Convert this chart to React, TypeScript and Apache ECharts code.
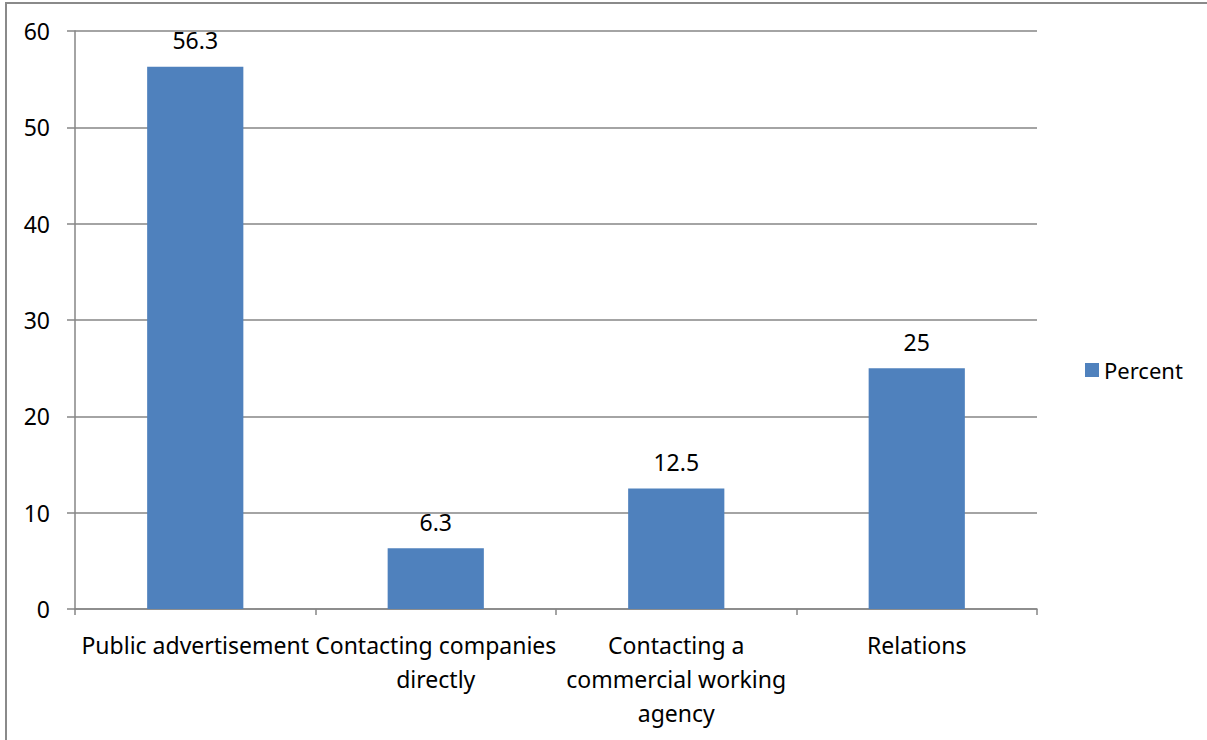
import React, { useEffect, useRef } from "react";
import * as echarts from "echarts";

const categories = [
  "Public advertisement",
  "Contacting companies\ndirectly",
  "Contacting a\ncommercial working\nagency",
  "Relations",
];
const percentValues = [56.3, 6.3, 12.5, 25];
const seriesName = "Percent";

const FONT = "'Noto Sans', sans-serif";

export default function App() {
  const ref = useRef<HTMLDivElement>(null);

  useEffect(() => {
    if (!ref.current) return;
    const chart = echarts.init(ref.current, undefined, { renderer: "svg" });
    chart.setOption({
      animation: false,
      backgroundColor: "#ffffff",
      textStyle: { fontFamily: FONT },
      graphic: [
        {
          type: "rect",
          shape: { x: 6, y: 3, width: 1300, height: 800 },
          style: { fill: "none", stroke: "#8a8a8a", lineWidth: 2 },
          silent: true,
        },
      ],
      grid: { left: 75, right: 170, top: 31, bottom: 131, containLabel: false },
      legend: {
        data: [seriesName],
        left: 1080,
        top: "middle",
        orient: "vertical",
        itemWidth: 14,
        itemHeight: 14,
        itemGap: 8,
        textStyle: { fontSize: 22, color: "#000", fontFamily: FONT },
        icon: "rect",
      },
      xAxis: {
        type: "category",
        data: categories,
        axisLine: { lineStyle: { color: "#868686", width: 1.5 } },
        axisTick: { show: true, length: 6, lineStyle: { color: "#868686", width: 1.5 } },
        axisLabel: {
          color: "#000",
          fontSize: 23,
          fontFamily: FONT,
          lineHeight: 34,
          margin: 19,
          interval: 0,
          align: "center",
        },
      },
      yAxis: {
        type: "value",
        min: 0,
        max: 60,
        interval: 10,
        axisLine: { show: true, lineStyle: { color: "#868686", width: 1.5 } },
        axisTick: { show: true, length: 8, lineStyle: { color: "#868686", width: 1.5 } },
        axisLabel: { color: "#000", fontSize: 23, fontFamily: FONT, margin: 25 },
        splitLine: { show: true, lineStyle: { color: "#868686", width: 1.5 } },
      },
      series: [
        {
          name: seriesName,
          type: "bar",
          data: percentValues,
          barCategoryGap: "60%",
          itemStyle: { color: "#4f81bd" },
          label: {
            show: true,
            position: "top",
            distance: 15,
            color: "#000",
            fontSize: 23,
            fontFamily: FONT,
          },
        },
      ],
    });
    return () => chart.dispose();
  }, []);

  return (
    <div
      ref={ref}
      style={{ position: "fixed", left: 0, top: 0, width: 1207, height: 740 }}
    />
  );
}
